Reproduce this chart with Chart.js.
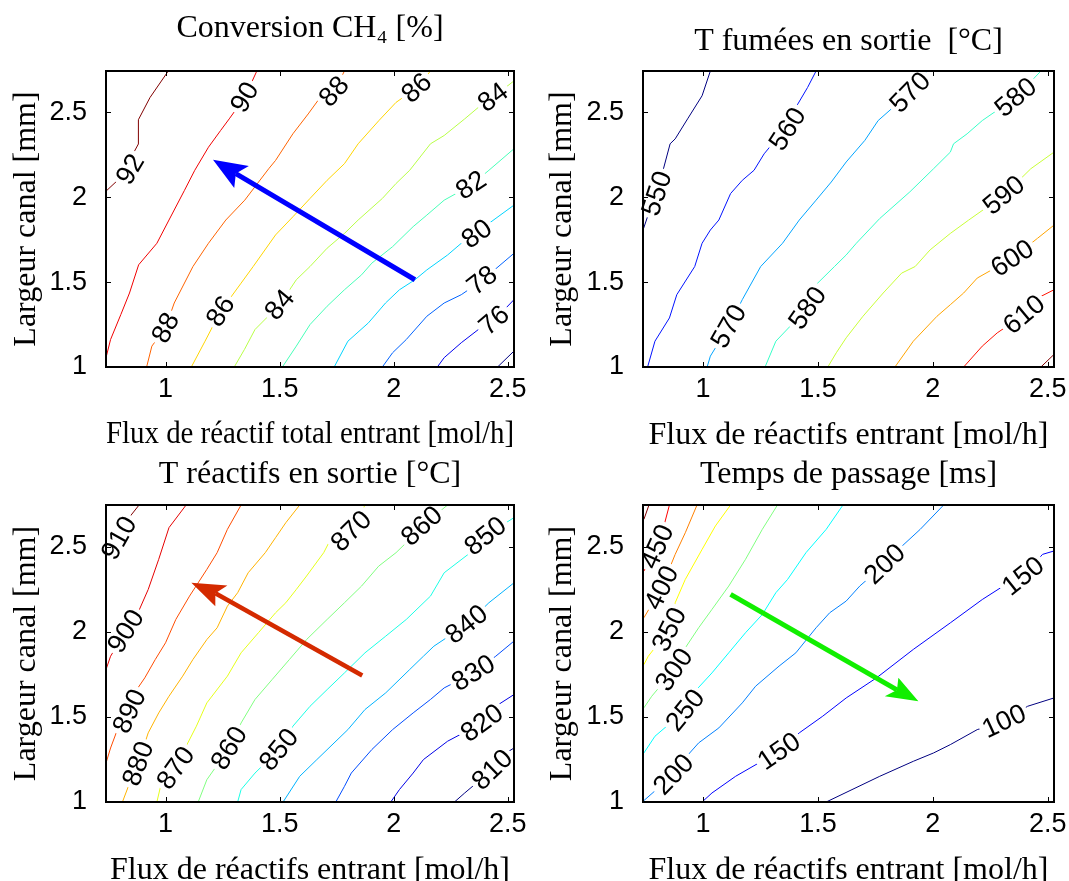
<!DOCTYPE html>
<html>
<head>
<meta charset="utf-8">
<script src="https://cdn.jsdelivr.net/npm/chart.js@4.4.1/dist/chart.umd.min.js"></script>
<style>
  html, body { margin: 0; padding: 0; background: #fff; overflow: hidden; width: 1069px; height: 881px; }
  canvas { position: absolute; }
</style>
</head>
<body>
<canvas id="convChart"></canvas>
<canvas id="fumeesChart"></canvas>
<canvas id="reactifsChart"></canvas>
<canvas id="passageChart"></canvas>
<script>
// axes communs
const xTicks = [1, 1.5, 2, 2.5];
const yTicks = [1, 1.5, 2, 2.5];
const xMin = 0.739, xMax = 2.527;
const yMin = 1, yMax = 2.744;

// Conversion CH4 [%]
const convNiveaux = [74, 76, 78, 80, 82, 84, 86, 88, 90, 92];
const convIso = [
    [[2.455,1.0],[2.527,1.094]],
    [[2.191,1.0],[2.221,1.055],[2.296,1.143],[2.371,1.221],[2.44,1.275],[2.527,1.397]],
    [[1.95,1.0],[1.995,1.084],[2.055,1.162],[2.145,1.299],[2.221,1.377],[2.296,1.426],[2.387,1.51],[2.527,1.67]],
    [[1.739,1.0],[1.799,1.152],[1.889,1.26],[1.964,1.377],[2.025,1.455],[2.093,1.514],[2.145,1.572],[2.236,1.66],[2.296,1.729],[2.364,1.785],[2.417,1.846],[2.527,1.954]],
    [[1.512,1.0],[1.573,1.123],[1.633,1.25],[1.708,1.358],[1.784,1.455],[1.859,1.543],[1.904,1.612],[1.995,1.709],[2.085,1.827],[2.145,1.895],[2.221,1.983],[2.339,2.071],[2.417,2.159],[2.527,2.286]],
    [[1.301,1.0],[1.346,1.104],[1.392,1.221],[1.5,1.367],[1.573,1.514],[1.633,1.592],[1.708,1.7],[1.784,1.787],[1.844,1.866],[1.95,1.993],[2.01,2.081],[2.07,2.159],[2.161,2.315],[2.221,2.364],[2.311,2.462],[2.371,2.53],[2.435,2.589],[2.527,2.686]],
    [[1.113,1.0],[1.173,1.152],[1.241,1.328],[1.331,1.494],[1.384,1.592],[1.482,1.778],[1.558,1.885],[1.633,1.993],[1.708,2.1],[1.784,2.198],[1.844,2.315],[1.935,2.452],[2.01,2.559],[2.1,2.644],[2.161,2.744]],
    [[0.917,1.0],[0.94,1.123],[1.0,1.231],[1.038,1.377],[1.12,1.592],[1.188,1.729],[1.264,1.866],[1.347,1.983],[1.452,2.168],[1.482,2.217],[1.558,2.374],[1.625,2.491],[1.678,2.589],[1.738,2.624],[1.784,2.744]],
    [[0.739,1.055],[0.759,1.162],[0.804,1.309],[0.842,1.436],[0.882,1.602],[0.962,1.729],[1.015,1.866],[1.083,2.041],[1.128,2.159],[1.188,2.295],[1.241,2.393],[1.279,2.462],[1.347,2.589],[1.4,2.744]],
    [[0.739,2.036],[0.79,2.1],[0.845,2.165],[0.855,2.25],[0.881,2.314],[0.881,2.457],[0.932,2.588],[1.012,2.744]]
];
const convEtiquettes = [[92,0.845,2.165],[90,1.347,2.589],[88,1.738,2.624],[86,2.1,2.644],[84,2.435,2.589],[82,2.339,2.071],[80,2.364,1.785],[78,2.387,1.51],[76,2.44,1.275],[88,1.0,1.231],[86,1.241,1.328],[84,1.5,1.367]];
const convFleche = [[2.093,1.514],[1.208,2.221],[1.365,2.184],[1.301,2.055]];

// T fumées en sortie [°C]
const fumNiveaux = [550, 560, 570, 580, 590, 600, 610, 620];
const fumIso = [
    [[0.739,1.807],[0.77,1.93],[0.799,2.022],[0.828,2.168],[0.857,2.315],[0.879,2.344],[0.933,2.462],[0.996,2.598],[1.032,2.744]],
    [[0.759,1.0],[0.791,1.152],[0.854,1.289],[0.886,1.426],[0.964,1.592],[0.996,1.729],[1.032,1.807],[1.069,1.866],[1.12,2.022],[1.171,2.1],[1.222,2.159],[1.266,2.256],[1.302,2.315],[1.368,2.403],[1.404,2.53],[1.455,2.647],[1.492,2.744]],
    [[1.018,1.0],[1.032,1.064],[1.112,1.24],[1.171,1.397],[1.251,1.592],[1.346,1.729],[1.419,1.866],[1.492,1.983],[1.558,2.09],[1.623,2.208],[1.704,2.335],[1.762,2.452],[1.901,2.618],[1.974,2.744]],
    [[1.27,1.0],[1.317,1.152],[1.455,1.348],[1.492,1.485],[1.572,1.592],[1.623,1.66],[1.667,1.729],[1.769,1.875],[1.9,2.032],[2.003,2.168],[2.076,2.266],[2.09,2.315],[2.149,2.374],[2.215,2.452],[2.361,2.589],[2.47,2.744]],
    [[1.543,1.0],[1.58,1.084],[1.623,1.172],[1.696,1.299],[1.784,1.436],[1.864,1.553],[1.923,1.592],[1.988,1.69],[2.076,1.787],[2.156,1.866],[2.309,2.012],[2.426,2.168],[2.527,2.266]],
    [[1.835,1.0],[1.915,1.152],[2.018,1.299],[2.076,1.367],[2.134,1.436],[2.193,1.524],[2.346,1.641],[2.455,1.758],[2.527,1.836]],
    [[2.134,1.0],[2.215,1.123],[2.28,1.201],[2.397,1.309],[2.47,1.416],[2.527,1.455]],
    [[2.47,1.0],[2.527,1.074]]
];
const fumEtiquettes = [[550,0.799,2.022],[560,1.368,2.403],[570,1.901,2.618],[580,2.361,2.589],[590,2.309,2.012],[600,2.346,1.641],[610,2.397,1.309],[570,1.112,1.24],[580,1.455,1.348]];

// T réactifs en sortie [°C]
const reaNiveaux = [810, 820, 830, 840, 850, 860, 870, 880, 890, 900, 910];
const reaIso = [
    [[2.266,1.0],[2.311,1.053],[2.432,1.19],[2.492,1.288],[2.527,1.317]],
    [[1.987,1.0],[2.025,1.073],[2.085,1.17],[2.13,1.249],[2.236,1.357],[2.387,1.464],[2.447,1.562],[2.527,1.631]],
    [[1.746,1.0],[1.784,1.092],[1.814,1.17],[1.904,1.308],[1.995,1.425],[2.085,1.523],[2.161,1.602],[2.221,1.67],[2.349,1.758],[2.447,1.856],[2.527,1.945]],
    [[1.515,1.0],[1.588,1.151],[1.663,1.249],[1.799,1.425],[1.874,1.543],[1.965,1.641],[2.07,1.778],[2.13,1.856],[2.176,1.915],[2.319,2.043],[2.417,2.17],[2.527,2.287]],
    [[1.316,1.0],[1.331,1.073],[1.392,1.17],[1.497,1.308],[1.558,1.445],[1.633,1.562],[1.708,1.66],[1.784,1.758],[1.874,1.876],[1.965,1.974],[2.055,2.072],[2.161,2.209],[2.221,2.346],[2.326,2.454],[2.402,2.562],[2.527,2.67]],
    [[1.143,1.0],[1.181,1.131],[1.279,1.317],[1.331,1.464],[1.392,1.602],[1.467,1.719],[1.543,1.837],[1.618,1.954],[1.708,2.072],[1.784,2.17],[1.859,2.268],[1.934,2.385],[2.01,2.464],[2.085,2.562],[2.123,2.621],[2.236,2.744]],
    [[0.962,1.0],[0.985,1.131],[1.045,1.2],[1.09,1.327],[1.135,1.445],[1.181,1.582],[1.271,1.739],[1.331,1.876],[1.407,1.994],[1.482,2.111],[1.527,2.17],[1.573,2.248],[1.618,2.327],[1.693,2.464],[1.723,2.542],[1.814,2.591],[1.874,2.744]],
    [[0.811,1.0],[0.845,1.12],[0.88,1.225],[0.924,1.406],[0.97,1.523],[1.015,1.621],[1.075,1.739],[1.12,1.837],[1.181,1.954],[1.226,2.023],[1.271,2.15],[1.316,2.229],[1.362,2.346],[1.437,2.464],[1.482,2.552],[1.527,2.64],[1.588,2.744]],
    [[0.739,1.229],[0.759,1.317],[0.789,1.425],[0.842,1.533],[0.864,1.641],[0.909,1.729],[0.955,1.837],[1.0,1.935],[1.045,2.072],[1.105,2.209],[1.181,2.366],[1.226,2.464],[1.271,2.601],[1.331,2.744]],
    [[0.739,1.778],[0.759,1.856],[0.826,2.003],[0.879,2.111],[0.924,2.248],[0.97,2.425],[1.015,2.611],[1.09,2.744]],
    [[0.739,2.44],[0.796,2.55],[0.826,2.646],[0.884,2.744]]
];
const reaEtiquettes = [[910,0.796,2.55],[900,0.826,2.003],[890,0.842,1.533],[880,0.88,1.225],[870,1.045,1.2],[860,1.279,1.317],[850,1.497,1.308],[870,1.814,2.591],[860,2.123,2.621],[850,2.402,2.562],[840,2.319,2.043],[830,2.349,1.758],[820,2.387,1.464],[810,2.432,1.19]];
const reaFleche = [[1.862,1.743],[1.113,2.287],[1.271,2.272],[1.218,2.15]];

// Temps de passage [ms]
const tpsNiveaux = [100, 150, 200, 250, 300, 350, 400, 450, 500];
const tpsIso = [
    [[1.536,1.0],[1.769,1.151],[1.915,1.239],[2.003,1.288],[2.076,1.337],[2.193,1.425],[2.31,1.474],[2.412,1.562],[2.527,1.611]],
    [[0.996,1.0],[1.039,1.053],[1.142,1.151],[1.331,1.298],[1.419,1.406],[1.521,1.504],[1.623,1.611],[1.755,1.729],[1.915,1.896],[2.076,2.052],[2.215,2.189],[2.295,2.258],[2.393,2.327],[2.477,2.454],[2.527,2.474]],
    [[0.74,1.005],[0.872,1.161],[0.923,1.259],[0.981,1.347],[1.069,1.435],[1.171,1.582],[1.229,1.68],[1.331,1.798],[1.404,1.876],[1.492,2.023],[1.551,2.111],[1.623,2.18],[1.682,2.268],[1.791,2.397],[1.85,2.483],[1.945,2.601],[2.047,2.744]],
    [[0.743,1.288],[0.791,1.386],[0.842,1.445],[0.923,1.539],[0.966,1.651],[1.039,1.758],[1.112,1.876],[1.185,1.994],[1.258,2.101],[1.317,2.229],[1.368,2.307],[1.448,2.464],[1.536,2.601],[1.609,2.744]],
    [[0.743,1.553],[0.777,1.621],[0.874,1.777],[0.923,1.905],[0.981,2.023],[1.039,2.131],[1.112,2.268],[1.185,2.425],[1.258,2.601],[1.324,2.744]],
    [[0.743,1.807],[0.762,1.856],[0.853,2.013],[0.879,2.17],[0.923,2.307],[0.996,2.483],[1.054,2.621],[1.12,2.744]],
    [[0.743,2.082],[0.82,2.258],[0.879,2.454],[0.923,2.581],[0.974,2.744]],
    [[0.743,2.356],[0.801,2.499],[0.828,2.611],[0.854,2.744]],
    [[0.743,2.66],[0.765,2.744]]
];
const tpsEtiquettes = [[450,0.801,2.499],[400,0.82,2.258],[350,0.853,2.013],[300,0.874,1.777],[250,0.923,1.539],[200,0.872,1.161],[150,1.331,1.298],[200,1.791,2.397],[150,2.393,2.327],[100,2.31,1.474]];
const tpsFleche = [[1.12,2.219],[1.937,1.592],[1.791,1.621],[1.85,1.729]];

const policeSerif = { family: "'Liberation Serif', 'Times New Roman', serif", size: 32, weight: 'normal' };
const policeSans = { family: "'Liberation Sans', Arial, sans-serif", size: 27, weight: 'normal' };

function jet(t) {
    const c = v => Math.round(255 * Math.min(1, Math.max(0, v)));
    return `rgb(${c(1.5 - Math.abs(4 * t - 3))},${c(1.5 - Math.abs(4 * t - 2))},${c(1.5 - Math.abs(4 * t - 1))})`;
}

// creux de la pointe (style vback2)
function encoche(fleche) {
    const [, tip, a, b] = fleche;
    const mx = (a[0] + b[0]) / 2, my = (a[1] + b[1]) / 2;
    return [tip[0] + (mx - tip[0]) * 0.8, tip[1] + (my - tip[1]) * 0.8];
}

function decorations(p) {
    return {
        id: 'decorations',
        afterDatasetsDraw(chart) {
            const { ctx, scales: { x, y } } = chart;
            const px = v => x.getPixelForValue(v);
            const py = v => y.getPixelForValue(v);
            ctx.save();
            if (p.fleche) {
                const [, tip, a, b] = p.fleche;
                const e = encoche(p.fleche);
                ctx.fillStyle = p.couleurFleche;
                ctx.beginPath();
                ctx.moveTo(px(tip[0]), py(tip[1]));
                ctx.lineTo(px(a[0]), py(a[1]));
                ctx.lineTo(px(e[0]), py(e[1]));
                ctx.lineTo(px(b[0]), py(b[1]));
                ctx.closePath();
                ctx.fill();
            }
            ctx.font = '27px "Liberation Sans", Arial, sans-serif';
            ctx.textAlign = 'center';
            ctx.textBaseline = 'middle';
            p.etiquettes.forEach(([niv, lx, ly]) => {
                const pts = p.iso[p.niveaux.indexOf(niv)];
                const cx = px(lx), cy = py(ly);
                let best = 0, bd = Infinity;
                pts.forEach(([vx, vy], i) => {
                    const d = (px(vx) - cx) ** 2 + (py(vy) - cy) ** 2;
                    if (d < bd) { bd = d; best = i; }
                });
                const a = pts[Math.max(best - 1, 0)];
                const b = pts[Math.min(best + 1, pts.length - 1)];
                let ang = Math.atan2(py(b[1]) - py(a[1]), px(b[0]) - px(a[0]));
                if (ang > Math.PI / 2) ang -= Math.PI;
                if (ang < -Math.PI / 2) ang += Math.PI;
                const txt = String(niv);
                const w = ctx.measureText(txt).width;
                ctx.save();
                ctx.translate(cx, cy);
                ctx.rotate(ang);
                ctx.fillStyle = '#fff';
                ctx.fillRect(-w / 2 - 3, -10, w + 6, 20);
                ctx.fillStyle = '#000';
                ctx.fillText(txt, 0, 1);
                ctx.restore();
            });
            ctx.restore();
        },
        afterDraw(chart) {
            const { ctx, chartArea: ca, scales: { x, y } } = chart;
            ctx.save();
            ctx.strokeStyle = '#000';
            ctx.lineWidth = 1;
            ctx.beginPath();
            xTicks.forEach(v => {
                const X = Math.round(x.getPixelForValue(v)) + 0.5;
                ctx.moveTo(X, ca.bottom); ctx.lineTo(X, ca.bottom - 5);
                ctx.moveTo(X, ca.top); ctx.lineTo(X, ca.top + 5);
            });
            yTicks.forEach(v => {
                const Y = Math.round(y.getPixelForValue(v)) + 0.5;
                ctx.moveTo(ca.left, Y); ctx.lineTo(ca.left + 5, Y);
                ctx.moveTo(ca.right, Y); ctx.lineTo(ca.right - 5, Y);
            });
            ctx.stroke();
            ctx.lineWidth = 2;
            ctx.strokeRect(ca.left, ca.top, ca.right - ca.left, ca.bottom - ca.top);
            ctx.restore();
        }
    };
}

function creerCarte(id, cadre, p) {
    const canvas = document.getElementById(id);
    canvas.width = cadre.w;
    canvas.height = cadre.h;
    canvas.style.left = cadre.x + 'px';
    canvas.style.top = cadre.y + 'px';

    const vers = ([x, y]) => ({ x, y });
    const datasets = [];
    if (p.fleche) {
        datasets.push({
            data: [p.fleche[0], encoche(p.fleche)].map(vers),
            showLine: true, borderColor: p.couleurFleche, borderWidth: p.epaisseurFleche,
            pointRadius: 0, borderCapStyle: 'butt'
        });
    }
    const n = p.niveaux.length;
    p.niveaux.forEach((niv, i) => {
        datasets.push({
            label: String(niv),
            data: p.iso[i].map(vers),
            showLine: true, borderColor: jet(i / (n - 1)), borderWidth: 1,
            pointRadius: 0, tension: 0
        });
    });

    new Chart(canvas, {
        type: 'scatter',
        data: { datasets },
        options: {
            responsive: false,
            animation: false,
            devicePixelRatio: 1,
            layout: { padding: { left: 0, right: cadre.padDroite, top: 0, bottom: 0 } },
            plugins: {
                legend: { display: false },
                tooltip: { enabled: false },
                title: {
                    display: true, text: p.titre, fullSize: false, color: '#000', font: policeSerif,
                    padding: { top: cadre.titreHaut, bottom: cadre.titreBas }
                }
            },
            scales: {
                x: {
                    type: 'linear', min: xMin, max: xMax,
                    afterBuildTicks: s => { s.ticks = xTicks.map(v => ({ value: v })); },
                    afterFit: s => { s.height = cadre.hAxeX; },
                    grid: { display: false }, border: { display: false },
                    ticks: { color: '#000', font: policeSans, padding: -2, maxRotation: 0, autoSkip: false, callback: v => v },
                    title: { display: true, text: p.titreX, color: '#000', font: policeSerif, padding: { top: 0, bottom: cadre.titreXBas } }
                },
                y: {
                    type: 'linear', min: yMin, max: yMax,
                    afterBuildTicks: s => { s.ticks = yTicks.map(v => ({ value: v })); },
                    afterFit: s => { s.width = cadre.lAxeY; },
                    grid: { display: false }, border: { display: false },
                    ticks: { color: '#000', font: policeSans, padding: 11, autoSkip: false, callback: v => v },
                    title: { display: true, text: 'Largeur canal [mm]', color: '#000', font: policeSerif, padding: { top: cadre.titreYGauche, bottom: 0 } }
                }
            }
        },
        plugins: [decorations(p)]
    });
}

creerCarte('convChart',
    { x: 0, y: 0, w: 540, h: 455, padDroite: 26, lAxeY: 106, hAxeX: 88, titreHaut: 9.8, titreBas: 22.8, titreXBas: 1, titreYGauche: 7.8 },
    { titre: 'Conversion CH\u2084 [%]', titreX: 'Flux de réactif total entrant [mol/h]', niveaux: convNiveaux, iso: convIso,
      etiquettes: convEtiquettes, fleche: convFleche, couleurFleche: '#0000ff', epaisseurFleche: 5 });

creerCarte('fumeesChart',
    { x: 535, y: 0, w: 550, h: 455, padDroite: 31, lAxeY: 108, hAxeX: 88, titreHaut: 22.8, titreBas: 9.8, titreXBas: 0, titreYGauche: 8.8 },
    { titre: 'T fumées en sortie  [°C]', titreX: 'Flux de réactifs entrant [mol/h]', niveaux: fumNiveaux, iso: fumIso,
      etiquettes: fumEtiquettes, fleche: null });

creerCarte('reactifsChart',
    { x: 0, y: 440, w: 540, h: 460, padDroite: 26, lAxeY: 106, hAxeX: 98, titreHaut: 15.8, titreBas: 10.8, titreXBas: 9.8, titreYGauche: 7.8 },
    { titre: 'T réactifs en sortie [°C]', titreX: 'Flux de réactifs entrant [mol/h]', niveaux: reaNiveaux, iso: reaIso,
      etiquettes: reaEtiquettes, fleche: reaFleche, couleurFleche: '#d42a00', epaisseurFleche: 4.5 });

creerCarte('passageChart',
    { x: 535, y: 440, w: 550, h: 460, padDroite: 31, lAxeY: 108, hAxeX: 98, titreHaut: 15.8, titreBas: 10.8, titreXBas: 9.8, titreYGauche: 8.8 },
    { titre: 'Temps de passage [ms]', titreX: 'Flux de réactifs entrant [mol/h]', niveaux: tpsNiveaux, iso: tpsIso,
      etiquettes: tpsEtiquettes, fleche: tpsFleche, couleurFleche: '#11ee00', epaisseurFleche: 5 });
</script>
</body>
</html>
